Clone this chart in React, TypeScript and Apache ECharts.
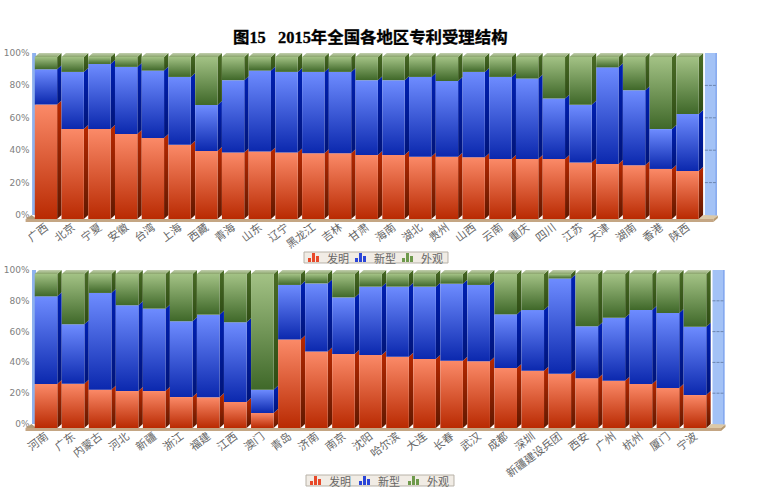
import React, { useEffect, useRef } from "react";
import * as echarts from "echarts";

const seriesNames = ["发明", "新型", "外观"];
const yTicks = [0, 20, 40, 60, 80, 100];

const topCategories = ["广西","北京","宁夏","安徽","台湾","上海","西藏","青海","山东","辽宁","黑龙江","吉林","甘肃","海南","湖北","贵州","山西","云南","重庆","四川","江苏","天津","湖南","香港","陕西"];
const topInvention = [70.7,55.5,55.5,52.5,50,45.9,42,41,41.6,41,40.6,40.6,39.5,39.5,38.5,38.5,38.1,37.1,37.1,37.1,34.8,34,33.2,30.9,29.7];
const topUtility = [21.7,35.3,40.2,41.4,41.6,41.8,28.3,44.7,50,49.8,50.2,50.2,46.2,46.2,49.2,46.7,52.7,50.6,49.6,37.3,35.7,59.6,46.3,24.6,35.1];
const topDesign = [7.6,9.2,4.3,6.1,8.4,12.3,29.7,14.3,8.4,9.2,9.2,9.2,14.3,14.3,12.3,14.8,9.2,12.3,13.3,25.6,29.5,6.4,20.5,44.5,35.2];

const bottomCategories = ["河南","广东","内蒙古","河北","新疆","浙江","福建","江西","澳门","青岛","济南","南京","沈阳","哈尔滨","大连","长春","武汉","成都","深圳","新疆建设兵团","西安","广州","杭州","厦门","宁波"];
const bottomInvention = [28.6,28.8,24.9,24,24,20.1,19.9,16.9,9.7,57.4,49.6,48.1,47.4,46.3,44.8,43.7,43.3,39,37.2,35.3,32.3,30.7,28.6,26,21.4];
const bottomUtility = [56.9,38.5,62.8,55.7,53.5,49.2,53.7,51.7,15.2,35.5,44.3,36.7,44.4,45.5,47,50,49.6,34.8,39.4,61.7,33.7,40.9,48,48.7,44.4];
const bottomDesign = [14.5,32.7,12.3,20.3,22.5,30.7,26.4,31.4,75.1,7.1,6.1,15.2,8.2,8.2,8.2,6.3,7.1,26.2,23.4,3,34,28.4,23.4,25.3,34.2];

const legendIcon = "path://M0 6H3V10H0ZM4 1H7V10H4ZM8 4H11V10H8Z";
const palette = [
  { front: ["#fb8a68", "#b92a02"], side: ["#b82800", "#5e1800"], legend: "#e8492a" },
  { front: ["#6e8cff", "#0b28ae"], side: ["#0020b4", "#001478"], legend: "#2b46d8" },
  { front: ["#a3c285", "#3f6829"], side: ["#4a6c26", "#2e4c14"], legend: "#6f9a4c" },
];
const DEPTH = 4;
const SIDE = 4.4;
const vGrad = (a: string, b: string) => ({
  type: "linear", x: 0, y: 0, x2: 0, y2: 1,
  colorStops: [{ offset: 0, color: a }, { offset: 1, color: b }],
});

function barSeries(gridIndex: number, layers: number[][]) {
  return layers.map((vals, li) => ({
    type: "custom",
    name: seriesNames[li],
    xAxisIndex: gridIndex,
    yAxisIndex: gridIndex,
    z: 3,
    silent: true,
    itemStyle: { color: palette[li].legend },
    encode: { x: 0, y: [1, 2] },
    data: vals.map((v, i) => {
      let start = 0;
      for (let k = 0; k < li; k++) start += layers[k][i];
      return [i, start, start + v];
    }),
    renderItem: (_p: any, api: any) => {
      const i = api.value(0);
      const low = api.coord([i, api.value(1)]);
      const high = api.coord([i, api.value(2)]);
      const w = api.size([1, 0])[0] * 0.835;
      const x0 = low[0] - w / 2;
      const x1 = low[0] + w / 2;
      const yB = low[1] + DEPTH;
      const yT = high[1] + DEPTH;
      const children: any[] = [
        {
          type: "polygon",
          shape: { points: [[x1, yT], [x1 + SIDE, yT - DEPTH], [x1 + SIDE, yB - DEPTH], [x1, yB]] },
          style: { fill: vGrad(palette[li].side[0], palette[li].side[1]) },
        },
        {
          type: "rect",
          shape: { x: x0, y: yT, width: w, height: yB - yT },
          style: { fill: vGrad(palette[li].front[0], palette[li].front[1]) },
        },
      ];
      if (li === 2) {
        children.push({
          type: "polygon",
          shape: { points: [[x0, yT], [x0 + SIDE, yT - DEPTH], [x1 + SIDE, yT - DEPTH], [x1, yT]] },
          style: { fill: vGrad("#c2cfae", "#8ba66c") },
        });
      }
      return { type: "group", children };
    },
  }));
}

function wallSeries(gridIndex: number) {
  return {
    type: "custom",
    name: "wall",
    xAxisIndex: gridIndex,
    yAxisIndex: gridIndex,
    z: 1,
    silent: true,
    encode: { x: 0, y: 1 },
    data: yTicks.map((t) => [0, t]),
    renderItem: (p: any, api: any) => {
      const cs = p.coordSys;
      const right = cs.x + cs.width;
      const bottom = cs.y + cs.height;
      const tickY = api.coord([0, api.value(1)])[1];
      const children: any[] = [];
      if (p.dataIndex === 0) {
        children.push(
          {
            type: "rect",
            shape: { x: cs.x - 0.5, y: cs.y, width: 4, height: cs.height },
            style: { fill: "#8fb2ee" },
          },
          {
            type: "rect",
            shape: { x: right + 4, y: cs.y, width: 12, height: cs.height + 1 },
            style: { fill: "#a3c2f6" },
          },
          {
            type: "rect",
            shape: { x: right + 14.5, y: cs.y, width: 1.5, height: cs.height + 1 },
            style: { fill: "#86a9ef" },
          },
          {
            type: "rect",
            shape: { x: cs.x - 7, y: bottom + DEPTH, width: cs.width + 19.5, height: 3 },
            style: { fill: "#c4a684" },
          },
          {
            type: "polygon",
            shape: { points: [[cs.x - 7, bottom + DEPTH], [cs.x - 1, bottom], [cs.x + 4, bottom + DEPTH]] },
            style: { fill: "#b09a78" },
          },
          {
            type: "polygon",
            shape: {
              points: [
                [right - 2, bottom + DEPTH],
                [right + 3, bottom],
                [right + 17, bottom + 0.5],
                [right + 12.5, bottom + DEPTH],
              ],
            },
            style: { fill: "#dcc9a8" },
          },
          {
            type: "polygon",
            shape: {
              points: [
                [right + 12.5, bottom + DEPTH],
                [right + 17, bottom + 0.5],
                [right + 17, bottom + 3],
                [right + 12.5, bottom + DEPTH + 3],
              ],
            },
            style: { fill: "#b89a70" },
          }
        );
      }
      if (api.value(1) > 0 && api.value(1) < 100) {
        children.push({
          type: "line",
          shape: { x1: right + 4, y1: tickY, x2: right + 16, y2: tickY },
          style: { stroke: "#6d86b0", lineWidth: 1, lineDash: [3, 1] },
        });
      }
      return { type: "group", children };
    },
  };
}

const legendData = seriesNames.map((name, i) => ({
  name,
  icon: legendIcon,
  itemStyle: { color: palette[i].legend },
}));

function legendAt(left: number, top: number, gap: number) {
  return {
    left,
    top,
    orient: "horizontal",
    selectedMode: false,
    data: legendData,
    itemWidth: 11,
    itemHeight: 9,
    itemGap: gap,
    padding: [0, 5, 0, 4],
    backgroundColor: "#f1ece5",
    borderColor: "#b8b2a8",
    borderWidth: 1,
    textStyle: { fontFamily: "Noto Sans CJK SC", fontSize: 11, color: "#666", padding: [0, 0, 0, 3] },
  };
}

function xAxis(gridIndex: number, data: string[]) {
  return {
    type: "category",
    gridIndex,
    data,
    axisLine: { show: false },
    axisTick: { show: false },
    axisLabel: {
      interval: 0,
      rotate: 37,
      margin: 10,
      fontFamily: "Noto Sans CJK SC",
      fontSize: 11,
      color: "#666",
    },
  };
}

function yAxis(gridIndex: number) {
  return {
    type: "value",
    gridIndex,
    min: 0,
    max: 100,
    interval: 20,
    axisLine: { show: false },
    axisTick: { show: false },
    splitLine: { show: false },
    axisLabel: {
      margin: 3,
      fontFamily: "DejaVu Sans",
      fontSize: 9,
      color: "#808080",
      formatter: "{value}%",
    },
  };
}

export default function App() {
  const ref = useRef<HTMLDivElement>(null);
  useEffect(() => {
    const chart = echarts.init(ref.current!, undefined, { renderer: "svg" });
    chart.setOption({
      animation: false,
      backgroundColor: "#ffffff",
      title: {
        text: "图15   2015年全国各地区专利受理结构",
        left: 233,
        top: 29,
        padding: 0,
        textStyle: {
          fontFamily: "'Liberation Serif', 'Noto Sans CJK SC'",
          fontWeight: "bold",
          fontSize: 16.4,
          color: "#000",
          textBorderColor: "#000",
          textBorderWidth: 0.3,
        },
      },
      legend: [legendAt(304, 252, 6), legendAt(306, 475, 8)],
      grid: [
        { left: 32.6, top: 53, width: 668.3, height: 162 },
        { left: 32.5, top: 270, width: 676, height: 154 },
      ],
      xAxis: [xAxis(0, topCategories), xAxis(1, bottomCategories)],
      yAxis: [yAxis(0), yAxis(1)],
      series: [
        wallSeries(0),
        wallSeries(1),
        ...barSeries(0, [topInvention, topUtility, topDesign]),
        ...barSeries(1, [bottomInvention, bottomUtility, bottomDesign]),
      ],
    });
    return () => chart.dispose();
  }, []);
  return <div ref={ref} style={{ position: "absolute", left: 0, top: 0, width: 762, height: 494 }} />;
}
